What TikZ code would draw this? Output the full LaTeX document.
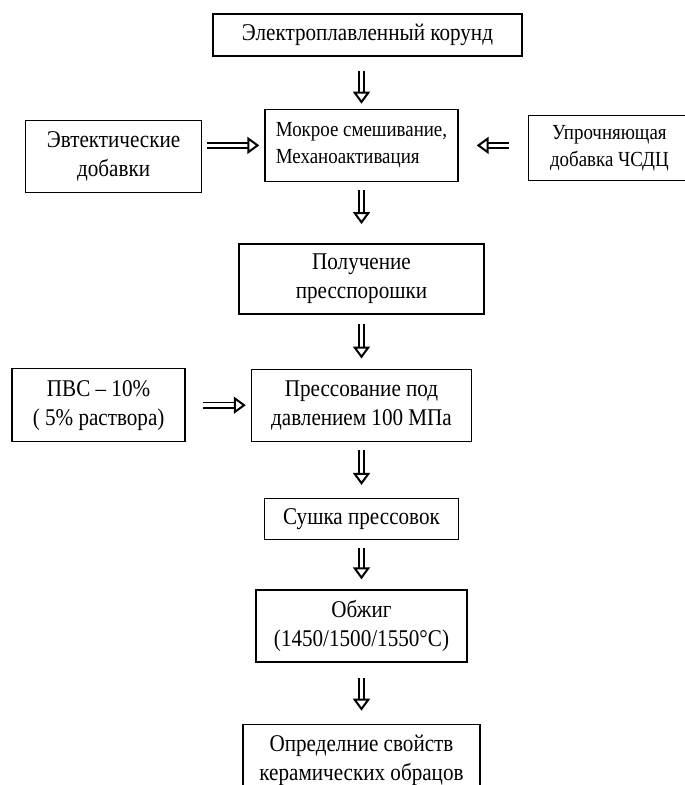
\documentclass[tikz,border=0pt]{standalone}
\usepackage{fontspec}
\setmainfont{Liberation Serif}[FakeStretch=0.88]
\usetikzlibrary{positioning,arrows.meta}

\begin{document}
\begin{tikzpicture}[x=1pt, y=1pt, node distance=50pt,
    every node/.style={font=\fontsize{24}{29}\selectfont},
    box/.style={draw, rectangle, line width=1.4pt, inner sep=0pt, align=center},
    small/.style={font=\fontsize{21.5}{27}\selectfont},
    hollow/.style={double, double distance=3.8pt, line width=1.5pt, -{Triangle[open, length=12pt, width=17pt, line width=2pt]}}]
    \useasboundingbox (0,0) rectangle (685,-785);

    % Raw material
    \node[box, minimum width=309pt, minimum height=42pt] (corund) at (367.5,-35) {Электроплавленный корунд};

    % Mixing and additives
    \node[box, small, align=left, minimum width=193pt, minimum height=72pt, below=52pt of corund, xshift=-6pt] (mix) {Мокрое смешивание,\\Механоактивация};
    \node[box, minimum width=176pt, minimum height=72pt, left=62pt of mix, yshift=-11pt] (eutect) {Эвтектические\\добавки};
    \node[box, small, minimum width=162pt, minimum height=65pt, right=69pt of mix, yshift=-2.5pt] (harden) {Упрочняющая\\добавка ЧСДЦ};

    % Powder and pressing
    \node[box, minimum width=245pt, minimum height=70pt, below=61pt of mix] (powder) {Получение\\пресспорошки};
    \node[box, minimum width=220pt, minimum height=72pt, below=54pt of powder] (press) {Прессование под\\давлением 100 МПа};
    \node[box, minimum width=173pt, minimum height=73pt, left=65pt of press] (pva) {ПВС – 10\%\\( 5\% раствора)};

    % Drying, firing, testing
    \node[box, minimum width=194pt, minimum height=41pt, below=56pt of press] (dry) {Сушка прессовок};
    \node[box, minimum width=211pt, minimum height=72pt, below=49pt of dry] (fire) {Обжиг\\(1450/1500/1550°C)};
    \node[box, minimum width=237pt, minimum height=72pt, below=61pt of fire] (props) {Определние свойств\\керамических обрацов};

    % Arrows
    \draw[hollow, shorten <=14pt, shorten >=5pt] (corund.south -| mix.north) -- (mix.north);
    \draw[hollow, shorten <=5pt, shorten >=5pt] (eutect.east |- mix.west) -- (mix.west);
    \draw[hollow, shorten <=19pt, shorten >=18pt] (harden.west |- mix.east) -- (mix.east);
    \draw[hollow, shorten <=8pt, shorten >=19pt] (mix.south) -- (powder.north);
    \draw[hollow, shorten <=9pt, shorten >=10pt] (powder.south) -- (press.north);
    \draw[hollow, shorten <=17pt, shorten >=5pt] (pva.east) -- (press.west);
    \draw[hollow, shorten <=8pt, shorten >=13pt] (press.south) -- (dry.north);
    \draw[hollow, shorten <=8pt, shorten >=10pt] (dry.south) -- (fire.north);
    \draw[hollow, shorten <=15pt, shorten >=13pt] (fire.south) -- (props.north);
\end{tikzpicture}
\end{document}
